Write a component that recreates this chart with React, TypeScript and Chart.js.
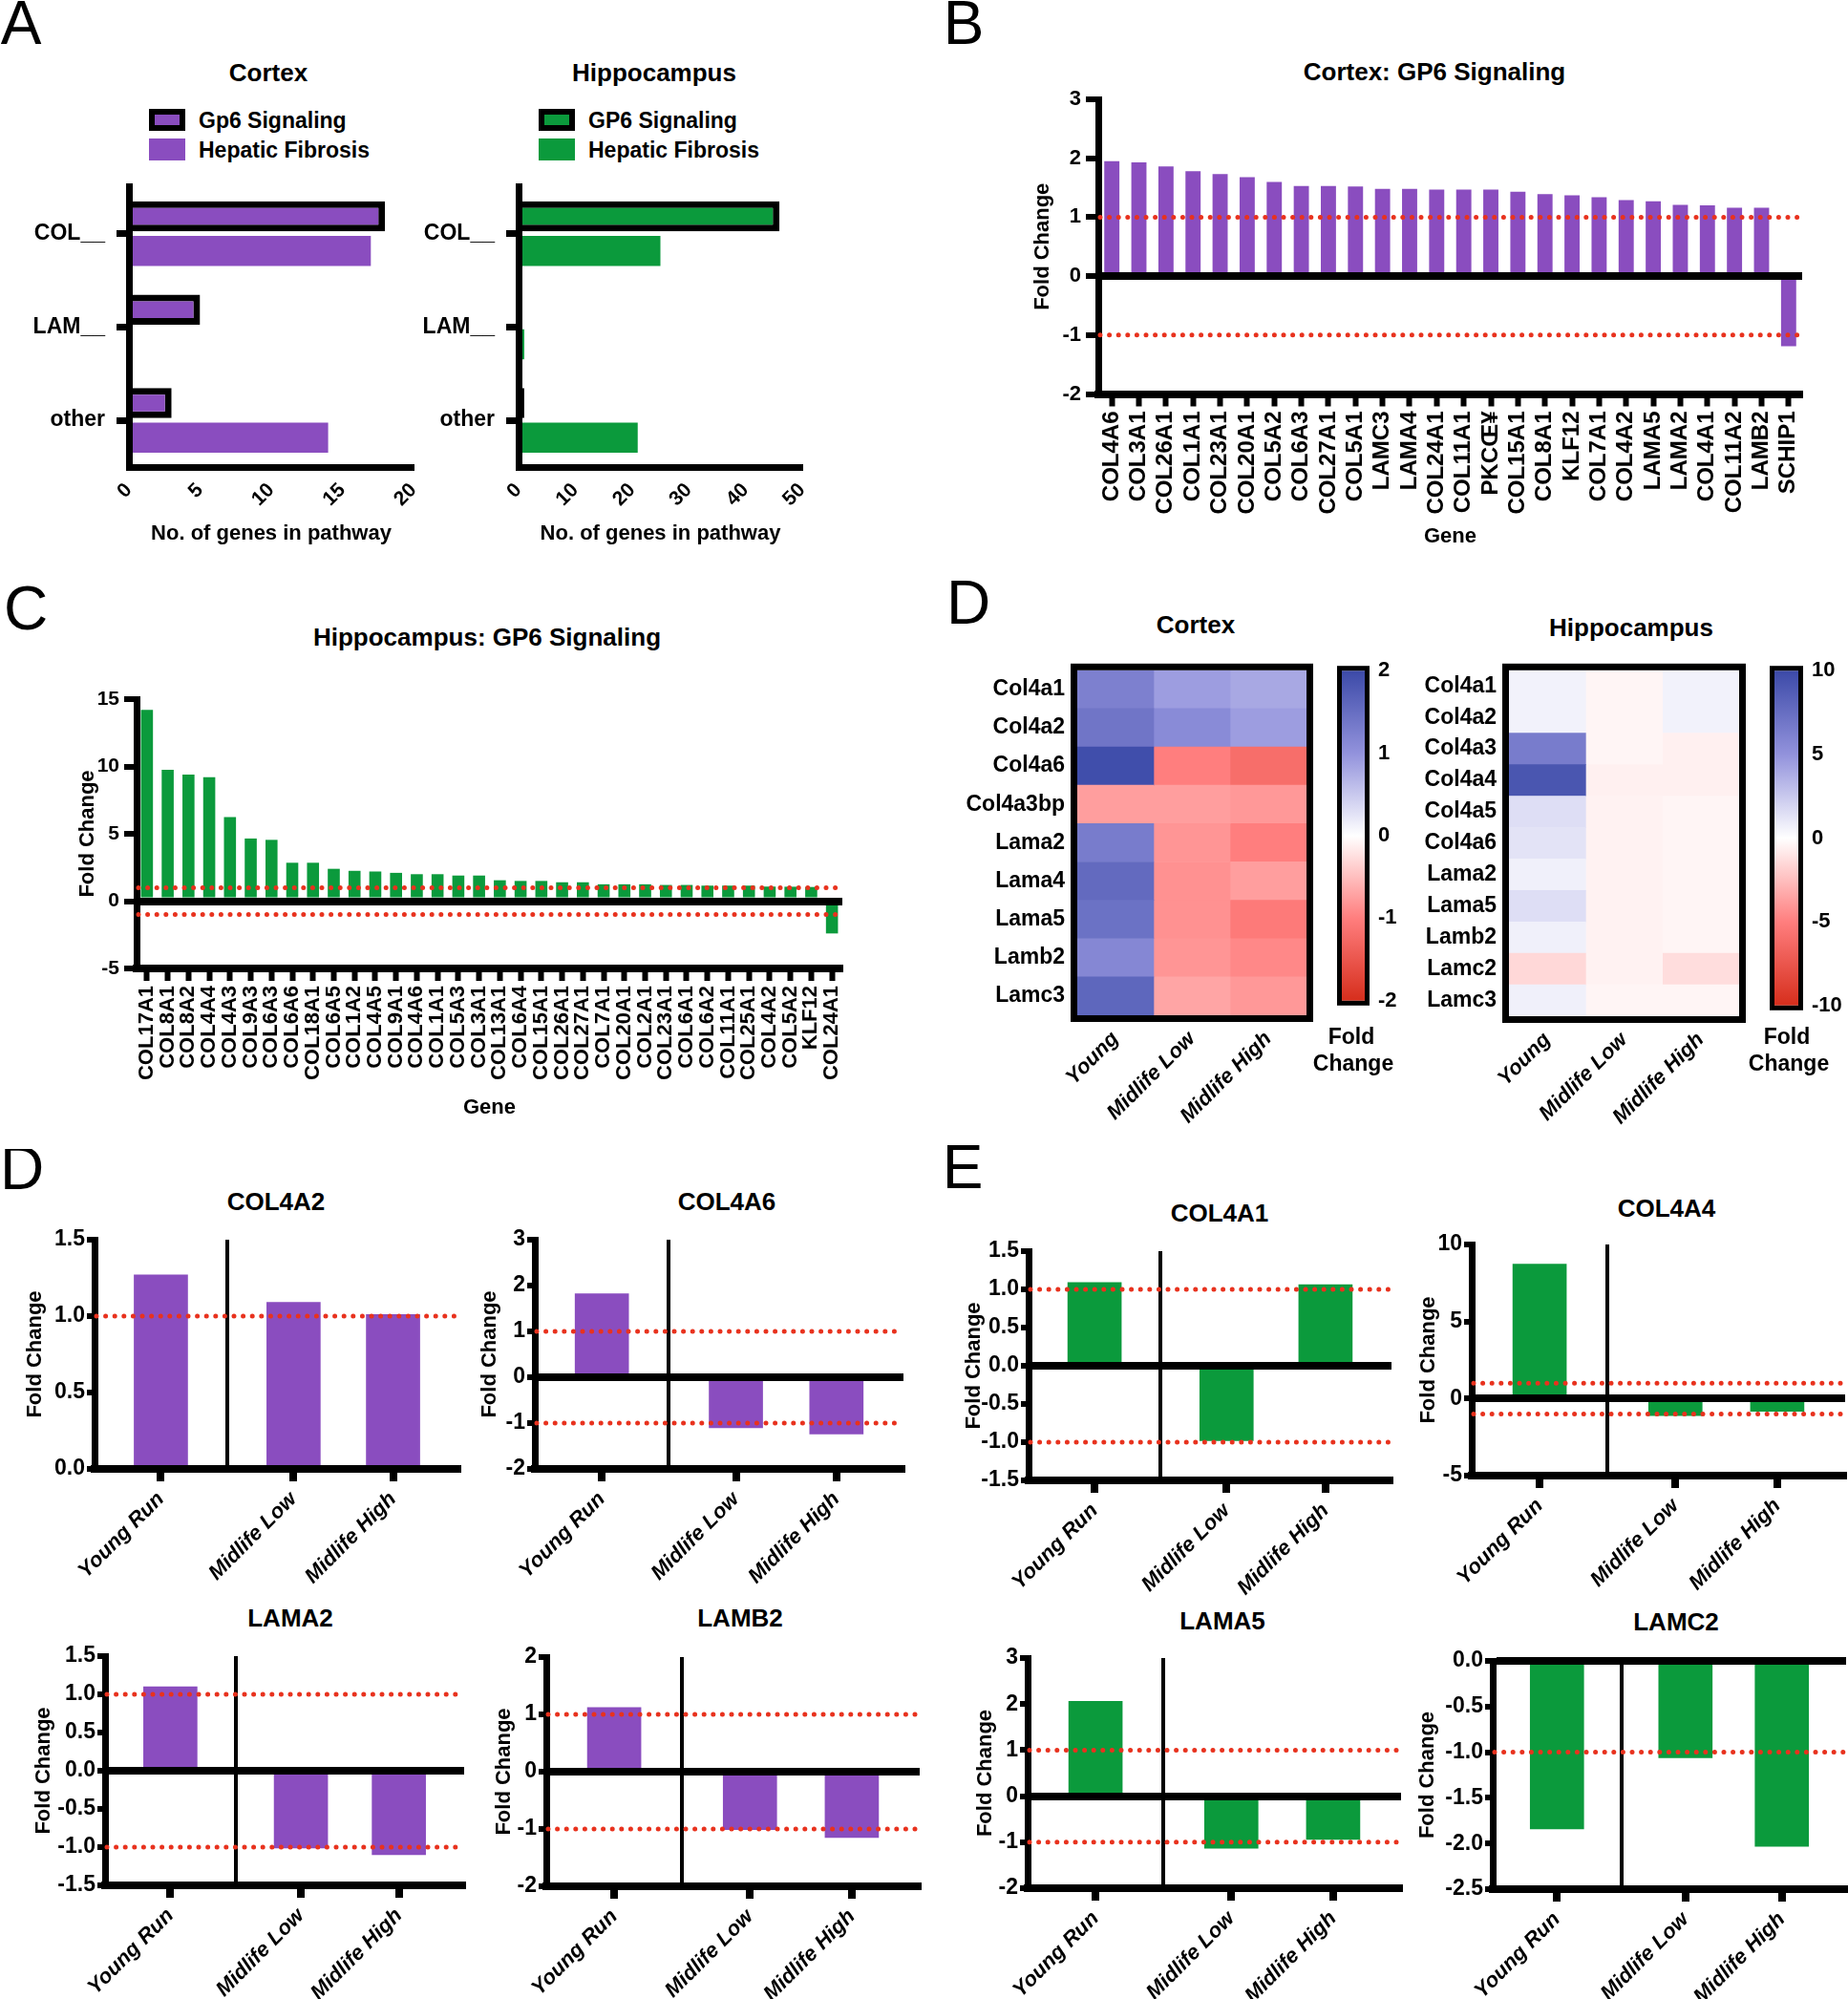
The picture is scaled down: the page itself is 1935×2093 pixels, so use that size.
import React, { useEffect, useRef } from 'react';
import { Chart, registerables } from 'chart.js';

Chart.register(...registerables);

const FONT = "'Liberation Sans', Arial, Helvetica, sans-serif";
Chart.defaults.font.family = FONT;
Chart.defaults.color = '#000';

const PURPLE = '#8a4dbf';
const GREEN = '#0b9a3c';
const DOT_RED = '#e8321e';
const CLEAR = 'rgba(0,0,0,0)';

// ---------------- DATA ----------------
const A_CATEGORIES = ['COL__', 'LAM__', 'other'];
const A_CORTEX_GP6 = [18, 5, 3];
const A_CORTEX_HEPATIC = [17, 0, 14];
const A_HIPPO_GP6 = [46, 0, 1];
const A_HIPPO_HEPATIC = [25, 1, 21];

const B_GENES = ['COL4A6', 'COL3A1', 'COL26A1', 'COL1A1', 'COL23A1', 'COL20A1', 'COL5A2', 'COL6A3', 'COL27A1', 'COL5A1', 'LAMC3', 'LAMA4', 'COL24A1', 'COL11A1', 'PKCŒ¥', 'COL15A1', 'COL8A1', 'KLF12', 'COL7A1', 'COL4A2', 'LAMA5', 'LAMA2', 'COL4A1', 'COL11A2', 'LAMB2', 'SCHIP1'];
const B_FOLD = [1.95, 1.93, 1.86, 1.78, 1.73, 1.68, 1.6, 1.53, 1.53, 1.52, 1.48, 1.48, 1.47, 1.47, 1.47, 1.43, 1.39, 1.37, 1.34, 1.29, 1.27, 1.21, 1.2, 1.16, 1.16, -1.19];

const C_GENES = ['COL17A1', 'COL8A1', 'COL8A2', 'COL4A4', 'COL4A3', 'COL9A3', 'COL6A3', 'COL6A6', 'COL18A1', 'COL6A5', 'COL1A2', 'COL4A5', 'COL9A1', 'COL4A6', 'COL1A1', 'COL5A3', 'COL3A1', 'COL13A1', 'COL6A4', 'COL15A1', 'COL26A1', 'COL27A1', 'COL7A1', 'COL20A1', 'COL2A1', 'COL23A1', 'COL6A1', 'COL6A2', 'COL11A1', 'COL25A1', 'COL4A2', 'COL5A2', 'KLF12', 'COL24A1'];
const C_FOLD = [14.2, 9.75, 9.4, 9.2, 6.25, 4.65, 4.55, 2.85, 2.85, 2.4, 2.25, 2.2, 2.1, 2.0, 2.0, 1.9, 1.9, 1.55, 1.5, 1.5, 1.4, 1.4, 1.25, 1.25, 1.25, 1.2, 1.2, 1.15, 1.15, 1.15, 1.08, 1.07, 1.05, -2.4];

const HEAT_GROUPS = ['Young', 'Midlife Low', 'Midlife High'];
const D_CORTEX_GENES = ['Col4a1', 'Col4a2', 'Col4a6', 'Col4a3bp', 'Lama2', 'Lama4', 'Lama5', 'Lamb2', 'Lamc3'];
const D_CORTEX_YOUNG = [1.25, 1.4, 1.95, -0.75, 1.3, 1.55, 1.45, 1.15, 1.6];
const D_CORTEX_MID_LOW = [0.9, 1.1, -1.0, -0.75, -0.82, -0.85, -0.85, -0.82, -0.7];
const D_CORTEX_MID_HIGH = [0.8, 0.9, -1.2, -0.8, -1.0, -0.75, -1.05, -0.92, -0.8];
const D_CORTEX_RANGE = 2;

const D_HIPPO_GENES = ['Col4a1', 'Col4a2', 'Col4a3', 'Col4a4', 'Col4a5', 'Col4a6', 'Lama2', 'Lama5', 'Lamb2', 'Lamc2', 'Lamc3'];
const D_HIPPO_YOUNG = [0.6, 0.6, 6.5, 9.2, 1.5, 1.3, 0.7, 1.5, 0.7, -1.5, 0.7];
const D_HIPPO_MID_LOW = [-0.4, -0.4, -0.4, -0.6, -0.5, -0.5, -0.5, -0.5, -0.5, -0.5, -0.4];
const D_HIPPO_MID_HIGH = [0.6, 0.6, -0.6, -0.6, -0.4, -0.4, -0.4, -0.4, -0.4, -1.3, -0.4];
const D_HIPPO_RANGE = 10;

const RUN_GROUPS = ['Young Run', 'Midlife Low', 'Midlife High'];
const COL4A2_FOLD = [1.27, 1.09, 1.01];
const COL4A6_FOLD = [1.82, -1.1, -1.24];
const LAMA2_FOLD = [1.1, -1.01, -1.1];
const LAMB2_FOLD = [1.12, -1.01, -1.15];
const COL4A1_FOLD = [1.09, -0.98, 1.06];
const COL4A4_FOLD = [8.72, -1.1, -0.82];
const LAMA5_FOLD = [2.06, -1.13, -0.94];
const LAMC2_FOLD = [-1.84, -1.06, -2.03];

const THRESHOLDS = [1, -1];

// group placement on the run-chart x axis (layout, not data)
const GROUP_X = [1, 3, 4.5];
const SEPARATOR_X = 2;

// ---------------- helpers ----------------
type Box = { L: number; T: number; R: number; B: number };
type Area = { l: number; t: number; r: number; b: number };

const bold = (size: number, italic = false) => ({ family: FONT, size, weight: 'bold' as const, style: italic ? ('italic' as const) : ('normal' as const), lineHeight: 1.2 });

const HEAT_STOPS: [number, number[]][] = [
  [-1, [214, 46, 28]],
  [-0.5, [255, 126, 126]],
  [0, [255, 255, 255]],
  [0.5, [146, 146, 220]],
  [1, [60, 74, 168]],
];
const rgb = (c: number[]) => `rgb(${Math.round(c[0])},${Math.round(c[1])},${Math.round(c[2])})`;
function heatColor(v: number, range: number) {
  const t = Math.max(-1, Math.min(1, v / range));
  for (let i = 0; i < HEAT_STOPS.length - 1; i++) {
    const [t0, c0] = HEAT_STOPS[i];
    const [t1, c1] = HEAT_STOPS[i + 1];
    if (t >= t0 && t <= t1) {
      const f = (t - t0) / (t1 - t0);
      return rgb([0, 1, 2].map((k) => c0[k] + (c1[k] - c0[k]) * f));
    }
  }
  return rgb(HEAT_STOPS[HEAT_STOPS.length - 1][1]);
}

const refLinesPlugin = {
  id: 'refLines',
  afterDraw(chart: any, _args: any, opts: any) {
    const vals: number[] = opts && opts.values;
    if (!vals || !vals.length) return;
    const y = chart.scales.y;
    const { left, right } = chart.chartArea;
    const ctx = chart.ctx;
    ctx.save();
    ctx.strokeStyle = opts.color || DOT_RED;
    ctx.lineWidth = opts.width || 5;
    ctx.lineCap = 'round';
    ctx.setLineDash([0, opts.gap || 9.6]);
    vals.forEach((v) => {
      if (v < y.min || v > y.max) return;
      const py = y.getPixelForValue(v);
      ctx.beginPath();
      ctx.moveTo(left + 2, py);
      ctx.lineTo(right, py);
      ctx.stroke();
    });
    ctx.restore();
  },
};

const framePlugin = {
  id: 'frame',
  afterDraw(chart: any, _args: any, opts: any) {
    if (!opts || !opts.width) return;
    const { left, top, width, height } = chart.chartArea;
    const ctx = chart.ctx;
    const w = opts.width;
    ctx.save();
    ctx.strokeStyle = '#000';
    ctx.lineWidth = w;
    ctx.strokeRect(left - w / 2, top - w / 2, width + w, height + w);
    ctx.restore();
  },
};

function ChartCanvas({ box, make }: { box: Box; make: () => any }) {
  const ref = useRef<HTMLCanvasElement | null>(null);
  useEffect(() => {
    if (!ref.current) return;
    const chart = new Chart(ref.current, make());
    return () => chart.destroy();
  }, []);
  const w = box.R - box.L;
  const h = box.B - box.T;
  return (
    <div style={{ position: 'absolute', left: box.L, top: box.T, width: w, height: h }}>
      <canvas ref={ref} width={w} height={h} style={{ display: 'block', width: w, height: h }} />
    </div>
  );
}

function Txt({ x, y, children, size = 26, weight = 700, anchor = 'middle' }: any) {
  const tx = anchor === 'middle' ? '-50%' : anchor === 'end' ? '-100%' : '0';
  return (
    <div
      style={{
        position: 'absolute', left: x, top: y, transform: `translate(${tx},-50%)`,
        fontSize: size, fontWeight: weight, lineHeight: 1, whiteSpace: 'nowrap', fontFamily: FONT, color: '#000',
      }}
    >
      {children}
    </div>
  );
}

const baseOpts = (box: Box, area: Area, rightAxis = false) => ({
  responsive: false,
  maintainAspectRatio: false,
  animation: false,
  events: [],
  layout: {
    padding: {
      left: rightAxis ? area.l - box.L : 0,
      right: rightAxis ? 0 : box.R - area.r,
      top: area.t - box.T,
      bottom: 0,
    },
  },
});

const zeroGrid = (tickLength: number, tickWidth: number, lineWidth = 8) => ({
  drawOnChartArea: true,
  color: (c: any) => (c.tick && c.tick.value === 0 ? '#000' : CLEAR),
  lineWidth,
  tickColor: '#000',
  tickLength,
  tickWidth,
  z: 1,
});

// ---------------- Panel A ----------------
function panelAConfig(box: Box, area: Area, gp6: number[], hep: number[], color: string, max: number, step: number) {
  return () => ({
    type: 'bar',
    data: {
      labels: A_CATEGORIES,
      datasets: [
        { label: 'Gp6 Signaling', data: gp6, backgroundColor: color, borderColor: '#000', borderWidth: 7 },
        { label: 'Hepatic Fibrosis', data: hep, backgroundColor: color, borderWidth: 0 },
      ],
    },
    options: {
      ...baseOpts(box, area),
      indexAxis: 'y',
      datasets: { bar: { categoryPercentage: 0.74, barPercentage: 0.87 } },
      plugins: { legend: { display: false }, tooltip: { enabled: false } },
      scales: {
        y: {
          type: 'category',
          afterFit: (s: any) => { s.width = area.l - box.L; },
          ticks: { font: bold(23), padding: 12, autoSkip: false },
          grid: { drawOnChartArea: false, offset: false, tickLength: 13, tickWidth: 7, tickColor: '#000' },
          border: { color: '#000', width: 7, z: 1 },
        },
        x: {
          type: 'linear', min: 0, max, offset: false,
          afterFit: (s: any) => { s.height = box.B - area.b; },
          ticks: { stepSize: step, font: bold(21), minRotation: 45, maxRotation: 45, padding: 12 },
          grid: { drawOnChartArea: false, drawTicks: false, offset: false },
          border: { color: '#000', width: 7, z: 1 },
          title: { display: true, text: 'No. of genes in pathway', font: bold(22), padding: { top: 0, bottom: box.B - 559 - 13.2 } },
        },
      },
    },
  });
}

// ---------------- Panels B & C ----------------
function geneBarConfig(box: Box, area: Area, labels: string[], values: number[], color: string, min: number, max: number, step: number, fcX: number, geneY: number, labelFont: number, tickFont: number, barPct: number) {
  return () => ({
    type: 'bar',
    data: { labels, datasets: [{ data: values, backgroundColor: color, borderWidth: 0, categoryPercentage: 1, barPercentage: barPct }] },
    options: {
      ...baseOpts(box, area),
      plugins: { legend: { display: false }, tooltip: { enabled: false }, refLines: { values: THRESHOLDS, width: 5, gap: 9.6 } },
      scales: {
        x: {
          type: 'category',
          afterFit: (s: any) => { s.height = box.B - area.b; },
          ticks: { font: bold(labelFont), minRotation: 90, maxRotation: 90, autoSkip: false, padding: 5 },
          grid: { drawOnChartArea: false, offset: false, tickLength: 13, tickWidth: 6, tickColor: '#000' },
          border: { color: '#000', width: 8, z: 1 },
          title: { display: true, text: 'Gene', font: bold(22), padding: { top: 0, bottom: box.B - geneY - 13.2 } },
        },
        y: {
          min, max,
          afterFit: (s: any) => { s.width = area.l - box.L; },
          ticks: { stepSize: step, font: bold(tickFont), padding: 5 },
          grid: zeroGrid(13, 6),
          border: { color: '#000', width: 7, z: 1 },
          title: { display: true, text: 'Fold Change', font: bold(22), padding: { top: fcX - box.L - 13.2, bottom: 0 } },
        },
      },
    },
    plugins: [refLinesPlugin],
  });
}

// ---------------- Panel D heatmaps ----------------
function heatConfig(box: Box, area: Area, genes: string[], cols: number[][], range: number) {
  return () => ({
    type: 'bar',
    data: {
      labels: genes,
      datasets: cols.map((vals, j) => ({
        label: HEAT_GROUPS[j],
        data: genes.map(() => 1),
        backgroundColor: vals.map((v) => heatColor(v, range)),
        borderWidth: 0,
        barPercentage: 1,
        categoryPercentage: 1,
      })),
    },
    options: {
      ...baseOpts(box, area),
      indexAxis: 'y',
      plugins: { legend: { display: false }, tooltip: { enabled: false }, frame: { width: 7 } },
      scales: {
        x: {
          type: 'linear', stacked: true, min: 0, max: HEAT_GROUPS.length, offset: false,
          afterFit: (s: any) => { s.height = box.B - area.b; },
          afterBuildTicks: (s: any) => { s.ticks = HEAT_GROUPS.map((_, i) => ({ value: i + 0.5 })); },
          ticks: { callback: (_v: any, i: number) => HEAT_GROUPS[i], font: bold(22, true), minRotation: 45, maxRotation: 45, autoSkip: false, padding: 12 },
          grid: { display: false, drawTicks: false, offset: false },
          border: { display: false },
        },
        y: {
          type: 'category', stacked: true,
          afterFit: (s: any) => { s.width = area.l - box.L; },
          ticks: { font: bold(23), padding: 13, autoSkip: false },
          grid: { display: false, drawTicks: false },
          border: { display: false },
        },
      },
    },
    plugins: [framePlugin],
  });
}

function colorbarConfig(box: Box, area: Area, range: number) {
  return () => ({
    type: 'bar',
    data: {
      labels: ['Fold Change'],
      datasets: [{
        data: [[-range, range]],
        backgroundColor: (c: any) => {
          const ca = c.chart.chartArea;
          if (!ca) return '#fff';
          const g = c.chart.ctx.createLinearGradient(0, ca.top, 0, ca.bottom);
          HEAT_STOPS.forEach(([t, col]) => g.addColorStop((1 - t) / 2, rgb(col)));
          return g;
        },
        borderWidth: 0, barPercentage: 1, categoryPercentage: 1,
      }],
    },
    options: {
      ...baseOpts(box, area, true),
      plugins: { legend: { display: false }, tooltip: { enabled: false }, frame: { width: 5 } },
      scales: {
        x: {
          afterFit: (s: any) => { s.height = box.B - area.b; },
          ticks: { display: false },
          grid: { display: false, drawTicks: false },
          border: { display: false },
        },
        y: {
          position: 'right', min: -range, max: range,
          afterFit: (s: any) => { s.width = box.R - area.r; },
          ticks: { stepSize: range / 2, font: bold(22), padding: 14 },
          grid: { display: false, drawTicks: false },
          border: { display: false },
        },
      },
    },
    plugins: [framePlugin],
  });
}

// ---------------- Panel D/E run charts ----------------
type RunSpec = { title: string; values: number[]; color: string; min: number; max: number; step: number; dec: number; area: Area; fcX: number; tx: number; ty: number };

const RUN_PANELS: RunSpec[] = [
  { title: 'COL4A2', values: COL4A2_FOLD, color: PURPLE, min: 0, max: 1.5, step: 0.5, dec: 1, area: { l: 99, t: 1298, r: 481, b: 1538 }, fcX: 37, tx: 289, ty: 1258 },
  { title: 'COL4A6', values: COL4A6_FOLD, color: PURPLE, min: -2, max: 3, step: 1, dec: 0, area: { l: 560, t: 1298, r: 946, b: 1538 }, fcX: 513, tx: 761, ty: 1258 },
  { title: 'LAMA2', values: LAMA2_FOLD, color: PURPLE, min: -1.5, max: 1.5, step: 0.5, dec: 1, area: { l: 110, t: 1734, r: 486, b: 1974 }, fcX: 46, tx: 304, ty: 1694 },
  { title: 'LAMB2', values: LAMB2_FOLD, color: PURPLE, min: -2, max: 2, step: 1, dec: 0, area: { l: 572, t: 1735, r: 963, b: 1975 }, fcX: 528, tx: 775, ty: 1694 },
  { title: 'COL4A1', values: COL4A1_FOLD, color: GREEN, min: -1.5, max: 1.5, step: 0.5, dec: 1, area: { l: 1077, t: 1310, r: 1457, b: 1550 }, fcX: 1020, tx: 1277, ty: 1270 },
  { title: 'COL4A4', values: COL4A4_FOLD, color: GREEN, min: -5, max: 10, step: 5, dec: 0, area: { l: 1541, t: 1303, r: 1932, b: 1545 }, fcX: 1496, tx: 1745, ty: 1265 },
  { title: 'LAMA5', values: LAMA5_FOLD, color: GREEN, min: -2, max: 3, step: 1, dec: 0, area: { l: 1076, t: 1736, r: 1467, b: 1977 }, fcX: 1032, tx: 1280, ty: 1697 },
  { title: 'LAMC2', values: LAMC2_FOLD, color: GREEN, min: -2.5, max: 0, step: 0.5, dec: 1, area: { l: 1563, t: 1739, r: 1933, b: 1978 }, fcX: 1495, tx: 1755, ty: 1698 },
];

const runBox = (s: RunSpec): Box => ({ L: s.fcX - 20, T: s.area.t - 24, R: Math.min(s.area.r + 12, 1935), B: Math.min(s.area.b + 130, 2093) });

function runConfig(s: RunSpec) {
  const box = runBox(s);
  const area = s.area;
  const tickPos = [GROUP_X[0], SEPARATOR_X, GROUP_X[1], GROUP_X[2]];
  const tickLabels = [RUN_GROUPS[0], '', RUN_GROUPS[1], RUN_GROUPS[2]];
  return () => ({
    type: 'bar',
    data: { datasets: [{ data: GROUP_X.map((x, i) => ({ x, y: s.values[i] })), backgroundColor: s.color, borderWidth: 0, barThickness: 56 }] },
    options: {
      ...baseOpts(box, area),
      plugins: { legend: { display: false }, tooltip: { enabled: false }, refLines: { values: THRESHOLDS, width: 5, gap: 9.6 } },
      scales: {
        x: {
          type: 'linear', min: 0, max: 5.5, offset: false,
          afterFit: (sc: any) => { sc.height = box.B - area.b; },
          afterBuildTicks: (sc: any) => { sc.ticks = tickPos.map((v) => ({ value: v })); },
          ticks: { callback: (_v: any, i: number) => tickLabels[i], font: bold(22, true), minRotation: 45, maxRotation: 45, autoSkip: false, padding: 6 },
          grid: {
            drawOnChartArea: true,
            offset: false,
            color: (c: any) => (c.tick && c.tick.value === SEPARATOR_X ? '#000' : CLEAR),
            lineWidth: 4,
            tickColor: (c: any) => (c.tick && c.tick.value === SEPARATOR_X ? CLEAR : '#000'),
            tickLength: 13,
            tickWidth: 8,
          },
          border: { color: '#000', width: 8, z: 1 },
        },
        y: {
          min: s.min, max: s.max,
          afterFit: (sc: any) => { sc.width = area.l - box.L; },
          ticks: { stepSize: s.step, font: bold(23), padding: 2, callback: (v: any) => Number(v).toFixed(s.dec) },
          grid: zeroGrid(8, 6),
          border: { color: '#000', width: 7, z: 1 },
          title: { display: true, text: 'Fold Change', font: bold(22), padding: { top: s.fcX - box.L - 13.2, bottom: 0 } },
        },
      },
    },
    plugins: [refLinesPlugin],
  });
}

// ---------------- layout boxes ----------------
const A_CTX_BOX: Box = { L: 0, T: 170, R: 468, B: 578 };
const A_CTX_AREA: Area = { l: 135, t: 185, r: 433, b: 489 };
const A_HIP_BOX: Box = { L: 420, T: 170, R: 876, B: 578 };
const A_HIP_AREA: Area = { l: 543, t: 185, r: 840, b: 489 };
const B_BOX: Box = { L: 1040, T: 80, R: 1935, B: 590 };
const B_AREA: Area = { l: 1150, t: 104, r: 1887, b: 412.5 };
const C_BOX: Box = { L: 0, T: 700, R: 910, B: 1180 };
const C_AREA: Area = { l: 143, t: 732, r: 882, b: 1014 };
const DH1_BOX: Box = { L: 1005, T: 675, R: 1392, B: 1190 };
const DH1_AREA: Area = { l: 1128, t: 694, r: 1368, b: 1063 };
const DC1_BOX: Box = { L: 1392, T: 675, R: 1478, B: 1075 };
const DC1_AREA: Area = { l: 1405, t: 697, r: 1429, b: 1060 };
const DH2_BOX: Box = { L: 1468, T: 675, R: 1845, B: 1190 };
const DH2_AREA: Area = { l: 1580, t: 701, r: 1821, b: 1064 };
const DC2_BOX: Box = { L: 1845, T: 675, R: 1935, B: 1080 };
const DC2_AREA: Area = { l: 1858, t: 699, r: 1883, b: 1064 };

function LegendA({ x, color, firstLabel }: { x: number; color: string; firstLabel: string }) {
  return (
    <>
      <div style={{ position: 'absolute', left: x, top: 114, width: 38, height: 23, boxSizing: 'border-box', border: '6px solid #000', background: color }} />
      <div style={{ position: 'absolute', left: x, top: 145, width: 38, height: 23, background: color }} />
      <Txt x={x + 52} y={125.5} size={23} anchor="start">{firstLabel}</Txt>
      <Txt x={x + 52} y={157} size={23} anchor="start">Hepatic Fibrosis</Txt>
    </>
  );
}

export default function App() {
  const letter = (ch: string, x: number, y: number) => <Txt x={x} y={y} size={64} weight={400}>{ch}</Txt>;
  return (
    <div style={{ position: 'absolute', left: 0, top: 0, width: 1935, height: 2093, background: '#fff', overflow: 'hidden', fontFamily: FONT }}>
      {letter('A', 22, 24)}
      {letter('B', 1009, 24)}
      {letter('C', 27, 637)}
      {letter('D', 1014, 631)}
      <div style={{ position: 'absolute', left: 0, top: 1203, width: 60, height: 50, overflow: 'hidden' }}>
        <Txt x={23} y={19.5} size={64} weight={400}>D</Txt>
      </div>
      {letter('E', 1008, 1222)}

      {/* Panel A */}
      <Txt x={281} y={76}>Cortex</Txt>
      <Txt x={685} y={76}>Hippocampus</Txt>
      <LegendA x={156} color={PURPLE} firstLabel="Gp6 Signaling" />
      <LegendA x={564} color={GREEN} firstLabel="GP6 Signaling" />
      <ChartCanvas box={A_CTX_BOX} make={panelAConfig(A_CTX_BOX, A_CTX_AREA, A_CORTEX_GP6, A_CORTEX_HEPATIC, PURPLE, 20, 5)} />
      <ChartCanvas box={A_HIP_BOX} make={panelAConfig(A_HIP_BOX, A_HIP_AREA, A_HIPPO_GP6, A_HIPPO_HEPATIC, GREEN, 50, 10)} />

      {/* Panel B */}
      <Txt x={1502} y={75}>Cortex: GP6 Signaling</Txt>
      <ChartCanvas box={B_BOX} make={geneBarConfig(B_BOX, B_AREA, B_GENES, B_FOLD, PURPLE, -2, 3, 1, 1092, 562, 24, 22, 0.56)} />

      {/* Panel C */}
      <Txt x={510} y={667}>Hippocampus: GP6 Signaling</Txt>
      <ChartCanvas box={C_BOX} make={geneBarConfig(C_BOX, C_AREA, C_GENES, C_FOLD, GREEN, -5, 15, 5, 92, 1160, 22, 21, 0.58)} />

      {/* Panel D heatmaps */}
      <Txt x={1252} y={654}>Cortex</Txt>
      <Txt x={1708} y={657}>Hippocampus</Txt>
      <ChartCanvas box={DH1_BOX} make={heatConfig(DH1_BOX, DH1_AREA, D_CORTEX_GENES, [D_CORTEX_YOUNG, D_CORTEX_MID_LOW, D_CORTEX_MID_HIGH], D_CORTEX_RANGE)} />
      <ChartCanvas box={DC1_BOX} make={colorbarConfig(DC1_BOX, DC1_AREA, D_CORTEX_RANGE)} />
      <ChartCanvas box={DH2_BOX} make={heatConfig(DH2_BOX, DH2_AREA, D_HIPPO_GENES, [D_HIPPO_YOUNG, D_HIPPO_MID_LOW, D_HIPPO_MID_HIGH], D_HIPPO_RANGE)} />
      <ChartCanvas box={DC2_BOX} make={colorbarConfig(DC2_BOX, DC2_AREA, D_HIPPO_RANGE)} />
      <Txt x={1415} y={1085} size={23}>Fold</Txt>
      <Txt x={1417} y={1113} size={23}>Change</Txt>
      <Txt x={1871} y={1085} size={23}>Fold</Txt>
      <Txt x={1873} y={1113} size={23}>Change</Txt>

      {/* Panels D/E run charts */}
      {RUN_PANELS.map((s) => (
        <React.Fragment key={s.title}>
          <Txt x={s.tx} y={s.ty}>{s.title}</Txt>
          <ChartCanvas box={runBox(s)} make={runConfig(s)} />
        </React.Fragment>
      ))}
    </div>
  );
}
